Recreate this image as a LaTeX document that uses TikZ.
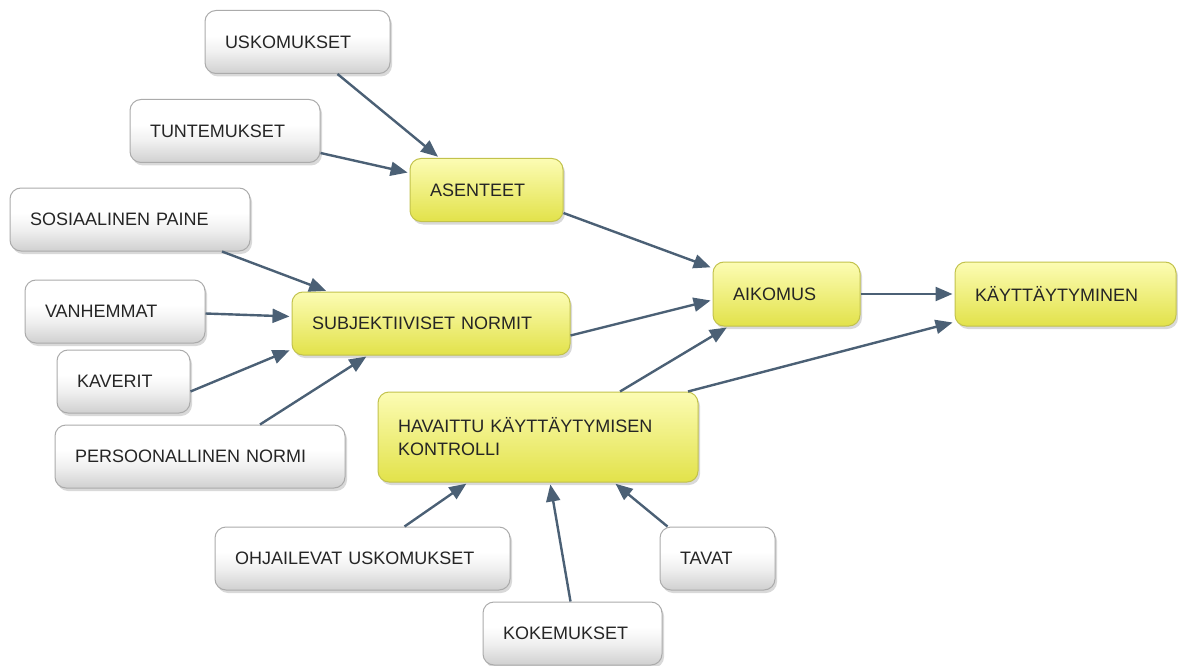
\documentclass[tikz,border=0pt]{standalone}
\usepackage{fontspec}
\setmainfont{Liberation Sans}
\usetikzlibrary{arrows.meta,shadows}
\definecolor{arrowc}{HTML}{4B6075}
\definecolor{greyline}{HTML}{ABABAB}
\definecolor{greybot}{HTML}{D0D0D0}
\definecolor{yeltop}{HTML}{FCFCB4}
\definecolor{yelmid}{HTML}{F5F56E}
\definecolor{yelbot}{HTML}{E2E24A}
\definecolor{yelline}{HTML}{C2C24C}
\definecolor{textc}{HTML}{252525}
\pgfdeclareverticalshading{harmaavarjo}{100bp}{color(0bp)=(greybot); color(25bp)=(greybot);
  color(42bp)=(white!94!black); color(55bp)=(white); color(100bp)=(white)}
\begin{document}
\begin{tikzpicture}[x=1pt,y=-1pt]
\tikzset{laatikko/.style={rounded corners=11pt, line width=1pt, inner xsep=20pt, inner ysep=0pt,
    minimum height=63pt, align=left, text=textc, font=\fontsize{18}{23}\selectfont,
    drop shadow={shadow xshift=2pt, shadow yshift=-3pt, opacity=0.3}},
  harmaa/.style={laatikko, draw=greyline, shading=harmaavarjo, text width=#1},
  keltainen/.style={laatikko, draw=yelline, top color=yeltop, middle color=yelmid, bottom color=yelbot, text width=#1},
  nuoli/.style={draw=arrowc, line width=2.4pt, -{Triangle[length=17pt,width=14pt]}, shorten >=2pt}}
\useasboundingbox (0,0) rectangle (1178,666);
% taustatekijat
\node[harmaa=145pt] (usk) at (297.5,42) {USKOMUKSET};
\node[harmaa=150pt] (tun) at (225,131) {TUNTEMUKSET};
\node[harmaa=200pt] (sos) at (130,219.5) {SOSIAALINEN PAINE};
\node[harmaa=140pt] (van) at (115,311.5) {VANHEMMAT};
\node[harmaa=93pt] (kav) at (123.5,381.5) {KAVERIT};
\node[harmaa=250pt] (per) at (200,456.5) {PERSOONALLINEN NORMI};
\node[harmaa=255pt] (ohj) at (362.5,558.5) {OHJAILEVAT USKOMUKSET};
\node[harmaa=139pt] (kok) at (572.5,633.5) {KOKEMUKSET};
\node[harmaa=75pt] (tav) at (717.5,558.5) {TAVAT};
% mallin osat
\node[keltainen=113pt] (ase) at (486.5,190) {ASENTEET};
\node[keltainen=238pt] (sub) at (431,323.5) {SUBJEKTIIVISET NORMIT};
\node[keltainen=280pt, minimum height=90pt] (hav) at (538,437) {HAVAITTU KÄYTTÄYTYMISEN\\KONTROLLI};
\node[keltainen=107pt, minimum height=64pt] (aik) at (786.5,294) {AIKOMUS};
\node[keltainen=181pt, minimum height=64pt] (kay) at (1065.5,294) {KÄYTTÄYTYMINEN};
% nuolet
\draw[nuoli] ([xshift=40pt]usk.south) -- ([xshift=-47pt]ase.north);
\draw[nuoli] ([yshift=-22pt]tun.east) -- ([yshift=17pt]ase.west);
\draw[nuoli] ([yshift=-23pt]ase.east) -- ([yshift=26pt]aik.west);
\draw[nuoli] ([xshift=92pt]sos.south) -- ([xshift=-103pt]sub.north);
\draw[nuoli] ([yshift=-2pt]van.east) -- ([yshift=7pt]sub.west);
\draw[nuoli] ([yshift=-10pt]kav.east) -- ([yshift=-26pt]sub.west);
\draw[nuoli] ([xshift=60pt]per.north) -- ([xshift=-63pt]sub.south);
\draw[nuoli] ([yshift=-12pt]sub.east) -- ([yshift=-6pt]aik.west);
\draw[nuoli] ([xshift=82pt]hav.north) -- ([xshift=-58pt]aik.south);
\draw[nuoli] ([xshift=150pt]hav.north) -- ([yshift=-28pt]kay.west);
\draw[nuoli] (aik.east) -- (kay.west);
\draw[nuoli] ([xshift=42pt]ohj.north) -- ([xshift=-70pt]hav.south);
\draw[nuoli] ([xshift=-2pt]kok.north) -- ([xshift=12pt]hav.south);
\draw[nuoli] ([xshift=-50pt]tav.north) -- ([xshift=76pt]hav.south);
\end{tikzpicture}
\end{document}
